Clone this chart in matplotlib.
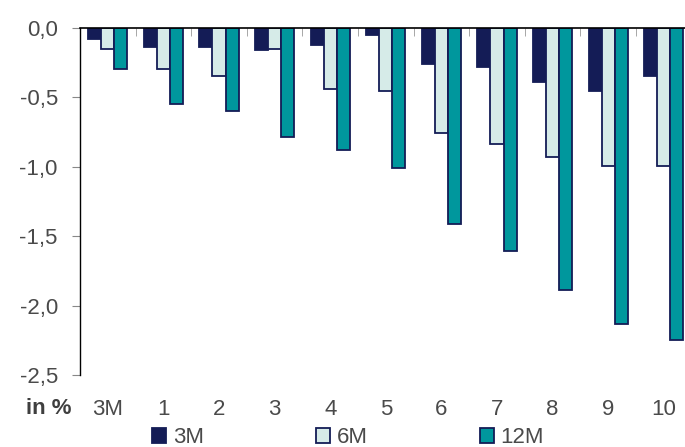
import numpy as np
import matplotlib
matplotlib.use('Agg')
import matplotlib.pyplot as plt
from matplotlib.patches import Patch

plt.rcParams['font.family'] = ['Liberation Sans', 'DejaVu Sans']

categories = ['3M', '1', '2', '3', '4', '5', '6', '7', '8', '9', '10']
series_names = ['3M', '6M', '12M']
vals_3m = [-0.08, -0.14, -0.14, -0.16, -0.125, -0.055, -0.26, -0.28, -0.39, -0.455, -0.35]
vals_6m = [-0.15, -0.30, -0.35, -0.155, -0.44, -0.455, -0.76, -0.84, -0.93, -0.995, -0.995]
vals_12m = [-0.30, -0.55, -0.60, -0.785, -0.88, -1.01, -1.41, -1.61, -1.885, -2.135, -2.245]
ytick_vals = [0.0, -0.5, -1.0, -1.5, -2.0, -2.5]
ytick_labels = ['0,0', '-0,5', '-1,0', '-1,5', '-2,0', '-2,5']

navy = '#141c56'
light = '#d6ebe8'
teal = '#00979d'
txt = '#4a4a4a'

fig = plt.figure(figsize=(6.85, 4.47), dpi=100)
ax = fig.add_axes([80 / 685, 1 - 375 / 447, 611.6 / 685, 347.3 / 447])

x = np.arange(len(categories))
w = 0.234
ax.bar(x - w, vals_3m, w, color=navy, edgecolor=navy, linewidth=1.3)
ax.bar(x, vals_6m, w, color=light, edgecolor=navy, linewidth=1.3)
ax.bar(x + w, vals_12m, w, color=teal, edgecolor=navy, linewidth=1.3)

ax.set_xlim(-0.5, len(categories) - 0.5)
ax.set_ylim(-2.5, 0)

ax.set_yticks(ytick_vals)
ax.set_yticklabels(ytick_labels, fontsize=16, color=txt)
ax.tick_params(axis='y', length=6, color='#888888', pad=10)

ax.set_xticks(x)
ax.set_xticklabels(categories, fontsize=16, color=txt)
ax.tick_params(axis='x', which='major', length=0, pad=17)
ax.set_xticks(np.arange(0.5, len(categories)), minor=True)
ax.tick_params(axis='x', which='minor', bottom=False, top=True, direction='in',
               length=6, color='#999999')

ax.spines['right'].set_visible(False)
ax.spines['bottom'].set_visible(False)
ax.spines['top'].set_color('black')
ax.spines['top'].set_linewidth(1.2)
ax.spines['left'].set_color('black')
ax.spines['left'].set_linewidth(1.0)

fig.text(71 / 685, 1 - 409 / 447, 'in %', fontsize=16, fontweight='bold',
         color='#3f3f3f', ha='right', va='center')

handles = [Patch(facecolor=navy, edgecolor=navy, linewidth=1.3),
           Patch(facecolor=light, edgecolor=navy, linewidth=1.3),
           Patch(facecolor=teal, edgecolor=navy, linewidth=1.3)]
leg = fig.legend(handles, series_names, loc='upper left', ncol=3,
                 bbox_to_anchor=(152 / 685, 1 - 427 / 447), frameon=False,
                 fontsize=16, handlelength=0.65, handleheight=0.65,
                 handletextpad=0.28, columnspacing=5.05, borderpad=0,
                 borderaxespad=0)
for t in leg.get_texts():
    t.set_color(txt)

fig.savefig('out.png', dpi=100)
